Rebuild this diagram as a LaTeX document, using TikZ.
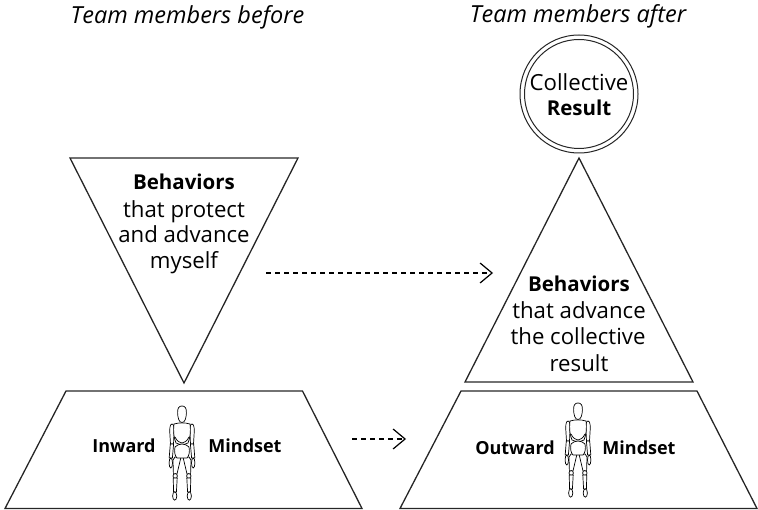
\documentclass[tikz,border=0pt]{standalone}
\usepackage{fontspec}
\setmainfont{Open Sans}
\usetikzlibrary{arrows.meta}
\tikzset{%
  shapeline/.style = {draw=black!85,line width=1.3pt,line join=miter},%
  body/.style      = {font=\fontsize{22.2}{25}\selectfont,anchor=base,inner sep=0pt},%
  head/.style      = {font=\fontsize{20.5}{25}\selectfont\bfseries,anchor=base,inner sep=0pt},%
  mind/.style      = {font=\fontsize{18}{20}\selectfont\bfseries,anchor=base,inner sep=0pt},%
  caption/.style   = {font=\fontsize{23.5}{26}\selectfont\itshape,anchor=base,inner sep=0pt},%
  flow/.style      = {draw=black,line width=1.1pt,dash pattern=on 5pt off 4pt,
                      -{Straight Barb[length=12pt,width=20pt,line width=1.2pt]}},%
  limb/.style      = {draw=black,line width=0.7pt,fill=white},%
  pics/mannequin/.style = {code={%
    \draw [limb] (0,0) .. controls (-3,0) and (-4.6,2) .. (-4.4,7)
      .. controls (-4.2,12) and (-3,16.5) .. (0,16.5)
      .. controls (3,16.5) and (4.2,12) .. (4.4,7)
      .. controls (4.6,2) and (3,0) .. (0,0) -- cycle;
    \foreach \s in {-1,1} {
      \begin{scope}[xscale=\s]
      % arm
      \draw [limb] (10,18) .. controls (12.5,18) and (12.5,24) .. (12,30)
        -- (11.5,38) -- (8.5,38) -- (8,28) .. controls (7.5,22) and (8,18) .. (10,18) -- cycle;
      \draw [limb] (11.7,38) -- (12.8,52) -- (9.6,52) -- (8.4,38) -- cycle;
      \draw [limb] (11.2,57) ellipse [x radius=1.7,y radius=5];
      % leg
      \draw [limb] (1,51) -- (7,51) -- (9,54) -- (8.6,68) -- (5,68) -- cycle;
      \draw [limb] (6.8,70) ellipse [x radius=2.2,y radius=2.4];
      \draw [limb] (4.8,72) -- (8.8,72) -- (8.4,86) -- (5.6,86) -- cycle;
      \draw [limb] (7.3,90) ellipse [x radius=2.1,y radius=4.2];
      \end{scope}
    }
    % torso
    \draw [limb] (-8,18) .. controls (-9,26) and (-8,32) .. (-6,37)
      .. controls (-2,39) and (2,39) .. (6,37)
      .. controls (8,32) and (9,26) .. (8,18)
      .. controls (3,16.5) and (-3,16.5) .. (-8,18) -- cycle;
    \draw [limb] (-7,41) .. controls (-8,46) and (-7,50) .. (-5,52)
      -- (5,52) .. controls (7,50) and (8,46) .. (7,41)
      .. controls (3,37) and (-3,37) .. (-7,41) -- cycle;
    \draw [limb] (-7,31) .. controls (-3,39) and (3,39) .. (7,31);
  }}%
}
\begin{document}
\begin{tikzpicture}[x=1pt,y=-1pt]
	\useasboundingbox (0,0) rectangle (758,510);
	% shapes
	\draw [shapeline] (70,158) -- (298,158) -- (184,383) -- cycle;
	\draw [shapeline] (66,391) -- (302.5,391) -- (362,508.5) -- (5,508.5) -- cycle;
	\draw [shapeline] (579,158) -- (693,382) -- (465,382) -- cycle;
	\draw [shapeline] (461,391) -- (697,391) -- (757,508.5) -- (400,508.5) -- cycle;
	\draw [shapeline,line width=1pt] (579,94) circle [radius=59];
	\draw [shapeline,line width=1pt] (579,94) circle [radius=54.5];
	% captions
	\node [caption] (capbefore) at (187.5,24) {Team members before};
	\node [caption] (capafter) at (578,23) {Team members after};
	% left text
	\node [head] (behavleft) at (184,190) {Behaviors};
	\node [body] (protect) at (184,217.5) {that protect};
	\node [body] (advance) at (184,243) {and advance};
	\node [body] (myself) at (184,268.5) {myself};
	% right text
	\node [head] (behavright) at (579,292) {Behaviors};
	\node [body] (thatadv) at (579,319) {that advance};
	\node [body] (thecoll) at (578,345) {the collective};
	\node [body] (result) at (579,372) {result};
	\node [body] (collective) at (579,91) {Collective};
	\node [head] (resultb) at (579,116) {Result};
	% mindsets
	\node [mind] (inward) at (124,453) {Inward};
	\node [mind] (mindleft) at (245,453) {Mindset};
	\node [mind] (outward) at (515,455) {Outward};
	\node [mind] (mindright) at (639,455) {Mindset};
	\pic at (182,406) {mannequin};
	\pic at (578,403) {mannequin};
	% arrows
	\coordinate (fromtop) at (266,273);
	\coordinate (totop) at (493,273);
	\coordinate (frombot) at (352,439);
	\coordinate (tobot) at (406,439);
	\draw [flow] (fromtop) -- (totop);
	\draw [flow] (frombot) -- (tobot);
\end{tikzpicture}
\end{document}
